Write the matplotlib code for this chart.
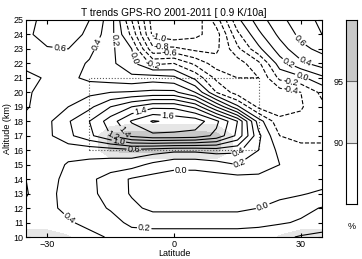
import numpy as np
import matplotlib.pyplot as plt
from matplotlib.patches import Rectangle

# latitude (deg) and altitude (km) grid of the trend field
lats = [-35, -30, -25, -20, -15, -10, -5, 0, 5, 10, 15, 20, 25, 30, 35]
alts = [25, 24, 23, 22, 21, 20, 19, 18, 17, 16, 15, 14, 13, 12, 11, 10]

# temperature trend K/10a, rows follow alts (top to bottom)
trend = [
    [0.50, 0.70, 0.75, 0.60, 0.30, -0.40, -1.10, -1.20, -1.15, -0.70, -0.05, 0.30, 0.55, 0.70, 0.85],
    [0.55, 0.70, 0.70, 0.55, 0.28, -0.25, -1.05, -1.15, -1.05, -0.90, -0.25, 0.15, 0.45, 0.65, 0.80],
    [0.50, 0.58, 0.60, 0.45, 0.25, 0.00, -0.75, -0.75, -0.85, -0.85, -0.45, -0.05, 0.30, 0.55, 0.65],
    [0.45, 0.50, 0.48, 0.38, 0.25, 0.05, -0.25, -0.20, -0.45, -0.70, -0.70, -0.45, 0.10, 0.35, 0.50],
    [0.35, 0.42, 0.45, 0.35, 0.30, 0.25, 0.30, 0.25, -0.05, -0.45, -0.60, -0.60, -0.15, -0.05, 0.15],
    [0.38, 0.45, 0.50, 0.55, 0.60, 0.62, 0.65, 0.65, 0.40, -0.20, -0.50, -0.55, -0.50, -0.40, -0.15],
    [0.38, 0.50, 0.60, 0.75, 1.00, 1.20, 1.35, 1.35, 1.15, 0.60, 0.05, -0.45, -0.50, -0.42, -0.25],
    [0.45, 0.55, 0.78, 1.00, 1.30, 1.62, 1.82, 1.75, 1.72, 1.45, 1.00, 0.10, -0.35, -0.35, -0.30],
    [0.50, 0.55, 0.75, 0.95, 1.20, 1.45, 1.55, 1.55, 1.52, 1.35, 0.95, 0.25, -0.20, -0.25, -0.22],
    [0.50, 0.50, 0.48, 0.48, 0.50, 0.55, 0.50, 0.45, 0.45, 0.50, 0.45, 0.20, -0.05, -0.15, -0.18],
    [0.55, 0.50, 0.38, 0.35, 0.32, 0.28, 0.15, 0.05, 0.05, 0.10, 0.20, 0.15, 0.00, -0.10, -0.12],
    [0.60, 0.45, 0.36, 0.25, 0.10, -0.02, -0.08, -0.08, -0.08, -0.08, -0.08, -0.08, -0.10, -0.10, -0.10],
    [0.62, 0.44, 0.35, 0.25, 0.12, -0.02, -0.08, -0.08, -0.08, -0.08, -0.08, -0.08, -0.06, -0.02, 0.04],
    [0.55, 0.44, 0.36, 0.28, 0.18, 0.05, -0.05, -0.05, -0.05, -0.05, -0.05, 0.00, 0.08, 0.15, 0.21],
    [0.50, 0.46, 0.42, 0.35, 0.28, 0.15, 0.14, 0.14, 0.14, 0.14, 0.14, 0.15, 0.18, 0.22, 0.30],
    [0.55, 0.55, 0.50, 0.45, 0.38, 0.30, 0.28, 0.28, 0.28, 0.28, 0.28, 0.30, 0.35, 0.42, 0.45],
]

# significance (%) on the same grid
signif = [
    [80] * 15,
    [80] * 15,
    [80] * 15,
    [80] * 15,
    [80] * 15,
    [80] * 15,
    [80] * 15,
    [80, 80, 80, 82, 86, 88, 88, 88, 88, 88, 84, 80, 80, 80, 80],
    [80, 80, 80, 85, 97, 98, 98, 98, 98, 97, 88, 80, 80, 80, 80],
    [80, 80, 80, 85, 96, 97, 97, 97, 97, 97, 88, 80, 80, 80, 80],
    [80, 80, 80, 82, 85, 85, 85, 85, 85, 85, 84, 80, 80, 80, 80],
    [80] * 15,
    [80] * 15,
    [80] * 15,
    [87, 87, 86, 80, 80, 80, 80, 80, 80, 80, 80, 80, 86, 87, 87],
    [93, 93, 90.5, 85, 80, 80, 80, 80, 80, 80, 80, 85, 90.5, 93, 93],
]

# where the contour labels sit (lat, alt)
label_spots = [
    (-27, 23.1), (-18, 23.3), (-14.4, 23.6), (-3.8, 23.6), (-3, 23.1),
    (-1, 22.6), (-8.5, 22.4), (-5.2, 21.75),
    (29, 23.4), (31, 22.1), (26.7, 21.9), (30.5, 21.3), (27.4, 20.6), (27.4, 19.95),
    (-8, 18.8), (-1.4, 18.5), (-14.5, 17.0), (-12, 17.2), (-13, 16.7), (-9.5, 16.0),
    (15, 15.95), (15, 15.3), (1.7, 14.8),
    (-25, 11.2), (-7, 10.8), (21, 12.1),
]

levels = np.round(np.arange(-1.2, 2.01, 0.2), 1)
sig_levels = [85, 90, 95, 100]
sig_colors = ['white', '#e6e6e6', '#c8c8c8']

plt.rcParams['font.family'] = ['Liberation Sans', 'DejaVu Sans']

fig = plt.figure(figsize=(3.62, 2.59), dpi=100)
ax = fig.add_axes([0.0718, 0.0849, 0.8177, 0.8379])

X, Y = np.meshgrid(lats, alts)
Z = np.array(trend)
S = np.array(signif, dtype=float)

cf = ax.contourf(X, Y, S, levels=sig_levels, colors=sig_colors, extend='min')
cs = ax.contour(X, Y, Z, levels=levels, colors='k', linewidths=0.8)
ax.set_xlim(-35, 35)
ax.set_ylim(10, 25)
ax.clabel(cs, fmt=lambda v: f'{v:.1f}'.replace('-0.0', '0.0'),
          fontsize=6.5, inline=True, inline_spacing=1, manual=label_spots)

ax.add_patch(Rectangle((-20, 16), 40, 5, fill=False, ls=':', lw=0.8, ec='0.35'))

ax.set_xticks([-30, 0, 30])
ax.set_yticks(range(10, 26))
ax.tick_params(direction='in', top=True, right=True, labelsize=6.5, length=3, pad=2)
ax.set_xlabel('Latitude', fontsize=6.5, labelpad=0)
ax.set_ylabel('Altitude (km)', fontsize=6.5, labelpad=1)
ax.set_title('T trends GPS-RO 2001-2011 [ 0.9 K/10a]', fontsize=7.3, pad=3)

# colour bar for significance
cax = fig.add_axes([0.9558, 0.2124, 0.0304, 0.7104])
cax.bar(0.5, 5, bottom=85, width=1, color=sig_colors[0], edgecolor='none')
cax.bar(0.5, 5, bottom=90, width=1, color=sig_colors[1], edgecolor='none')
cax.bar(0.5, 5, bottom=95, width=1, color=sig_colors[2], edgecolor='none')
cax.axhline(90, color='0.4', lw=0.8)
cax.axhline(95, color='0.4', lw=0.8)
cax.set_xlim(0, 1)
cax.set_ylim(85, 100)
cax.set_xticks([])
cax.set_yticks([90, 95])
cax.yaxis.set_ticks_position('left')
cax.tick_params(length=0, labelsize=6.5, pad=2)
cax.text(0.5, 83.5, '%', ha='center', va='top', fontsize=6.5)

fig.savefig('out.png', dpi=100)
